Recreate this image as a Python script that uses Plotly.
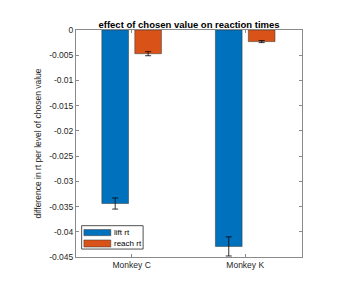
import plotly.graph_objects as go

categories = ["Monkey C", "Monkey K"]
lift_rt = [-0.0344, -0.0429]
lift_err = [0.0011, 0.0019]
reach_rt = [-0.0047, -0.0023]
reach_err = [0.0004, 0.0002]
series_names = ["lift rt", "reach rt"]
colors = ["#0072BD", "#D95319"]
ytick_vals = [0, -0.005, -0.01, -0.015, -0.02, -0.025, -0.03, -0.035, -0.04, -0.045]
ytick_text = ["0", "-0.005", "-0.01", "-0.015", "-0.02", "-0.025", "-0.03", "-0.035", "-0.04", "-0.045"]

FONT = "Liberation Sans, Arial, Helvetica, sans-serif"
xpos = [1, 2]

fig = go.Figure()
for name, vals, errs, col in [(series_names[0], lift_rt, lift_err, colors[0]),
                              (series_names[1], reach_rt, reach_err, colors[1])]:
    fig.add_trace(go.Bar(
        x=xpos, y=vals, name=name,
        marker=dict(color=col, line=dict(color="#333333", width=0.5)),
        error_y=dict(type="data", array=errs, color="#000000", thickness=0.8, width=3),
        showlegend=False,
    ))

axis_col = "#8a8a8a"
fig.update_layout(
    width=360, height=303,
    margin=dict(l=68, r=66, t=22, b=54),
    paper_bgcolor="white", plot_bgcolor="white",
    barmode="group", bargap=0.42, bargroupgap=0.19,
    font=dict(family=FONT, size=8.5, color="#262626"),
    title=dict(text="<b>effect of chosen value on reaction times</b>",
               x=0.5, xanchor="center", xref="paper", y=1 - 16.7 / 303, yanchor="middle",
               font=dict(size=9.5, color="#000000", family=FONT)),
    xaxis=dict(range=[0.51, 2.5], tickvals=xpos, ticktext=categories,
               showline=True, linecolor=axis_col, linewidth=1, mirror="ticks",
               ticks="inside", ticklen=3, tickcolor=axis_col, showgrid=False, zeroline=False,
               tickfont=dict(size=8.5, color="#262626")),
    yaxis=dict(range=[-0.045, 0], tickvals=ytick_vals, ticktext=ytick_text,
               showline=True, linecolor=axis_col, linewidth=1, mirror="ticks",
               ticks="inside", ticklen=3, tickcolor=axis_col, showgrid=False, zeroline=False,
               tickfont=dict(size=8.5, color="#262626"),
               title=dict(text="difference in rt per level of chosen value", standoff=6,
                          font=dict(size=8.5, color="#262626"))),
)

# custom MATLAB-style legend
shapes = [
    dict(type="rect", xref="x domain", yref="y domain", x0=0.025, x1=0.297, y0=0.035, y1=0.138,
         line=dict(color="#262626", width=0.8), fillcolor="white", layer="above"),
]
rows = [(0.094, 0.121, 0.107), (0.044, 0.075, 0.059)]
for (y0, y1, yc), name, col in zip(rows, series_names, colors):
    shapes.append(dict(type="rect", xref="x domain", yref="y domain", x0=0.035, x1=0.154,
                       y0=y0, y1=y1, line=dict(color="#333333", width=0.5), fillcolor=col,
                       layer="above"))
    fig.add_annotation(xref="x domain", yref="y domain", x=0.160, y=yc, text=name,
                       showarrow=False, xanchor="left", yanchor="middle",
                       font=dict(size=8, color="#000000", family=FONT))
fig.update_layout(shapes=shapes)

fig.write_html("out.html")
